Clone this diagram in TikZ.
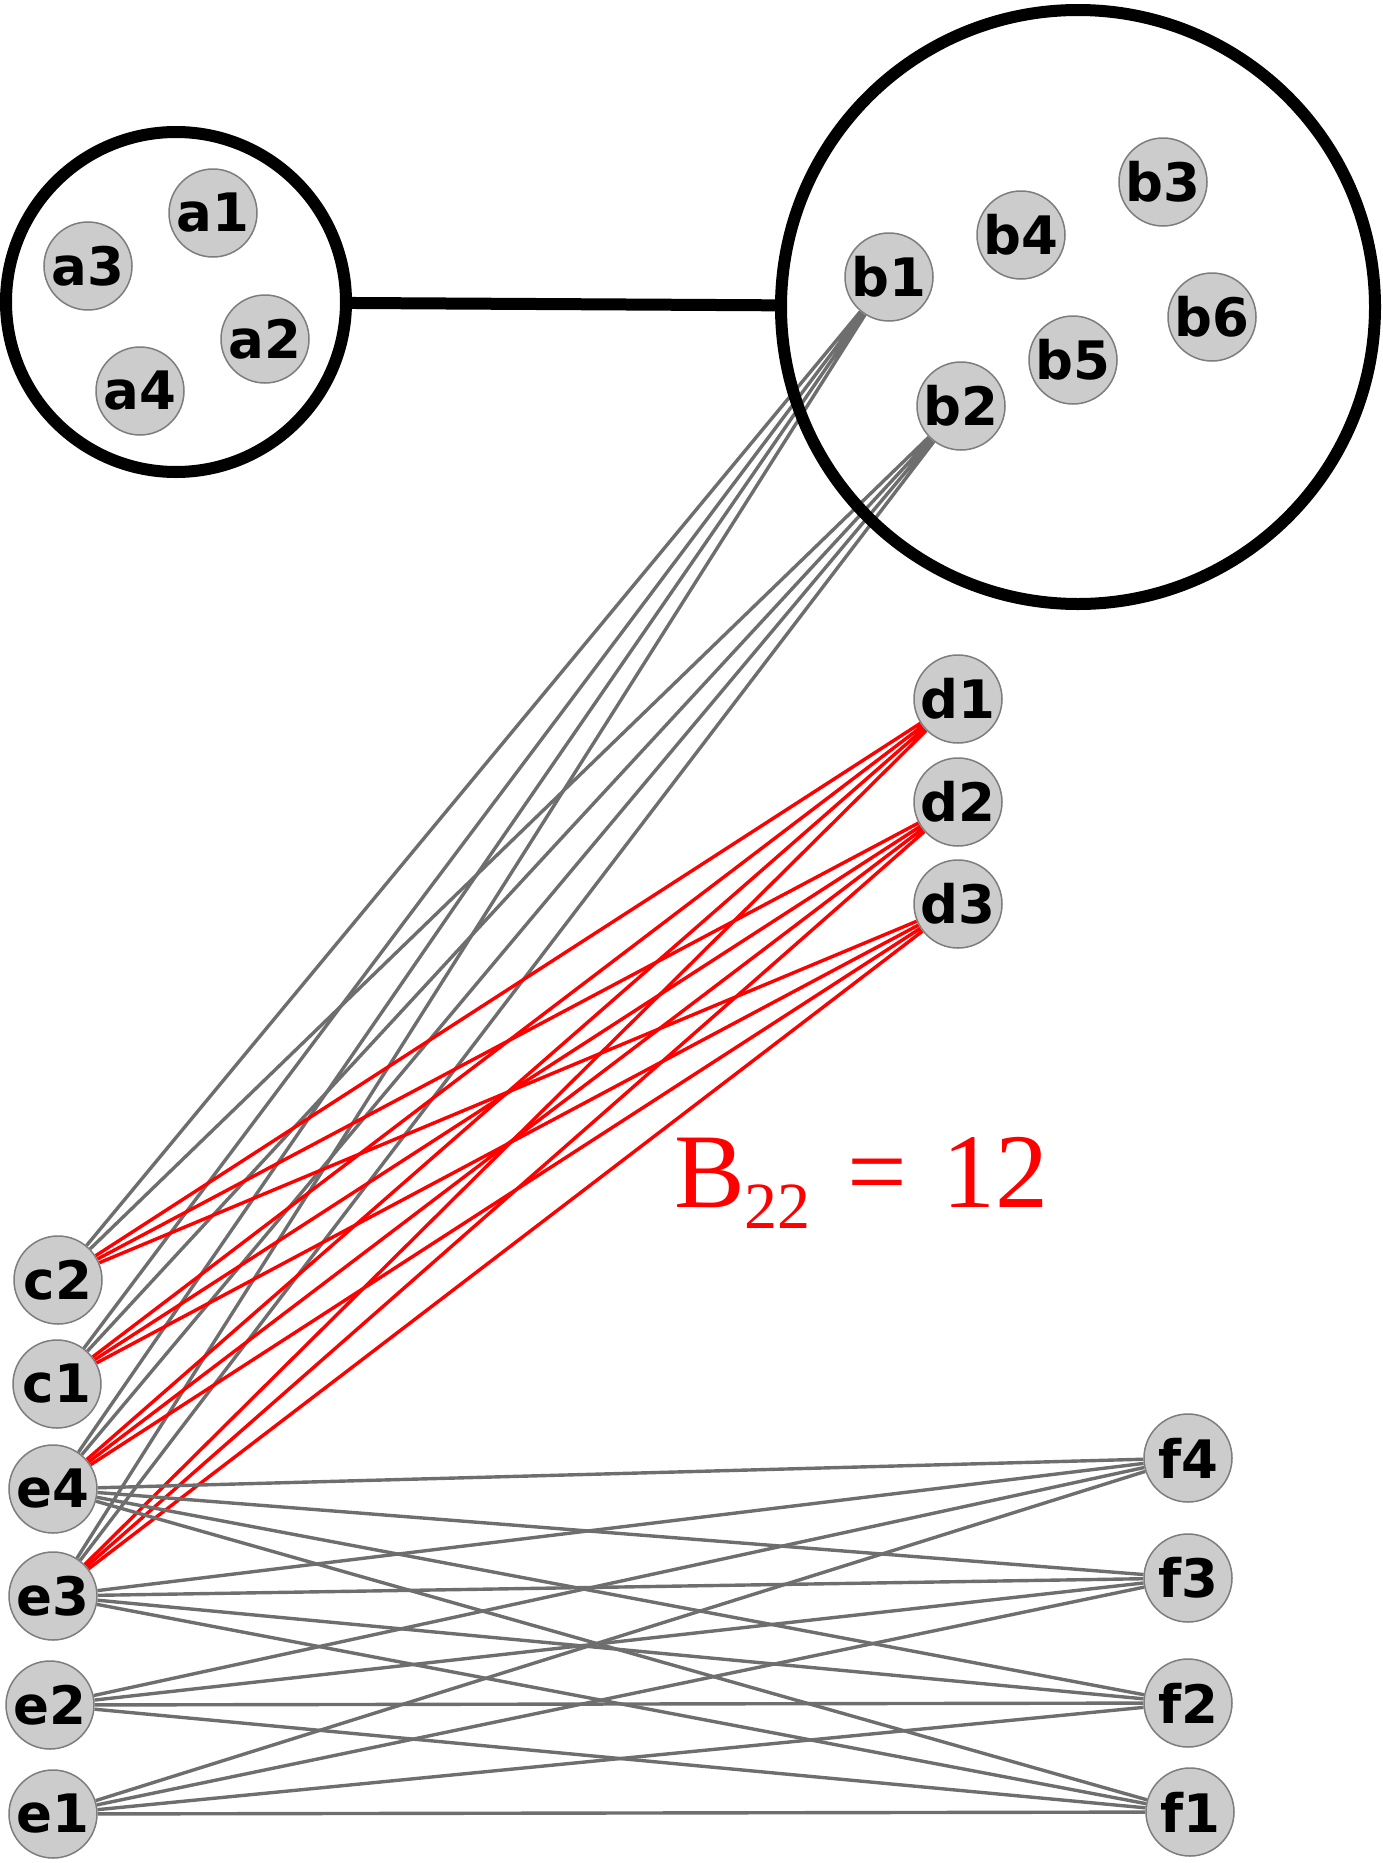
\documentclass[tikz,border=0pt]{standalone}
\usepackage{fontspec}
\usepackage{xcolor}
\usepackage{tikz}
\usetikzlibrary{backgrounds}
\newfontfamily\labelfont{DejaVu Sans}
\newfontfamily\countfont{Liberation Serif}
\definecolor{nodegray}{RGB}{204,204,204}
\definecolor{rimgray}{RGB}{125,125,125}
\definecolor{edgegray}{RGB}{110,110,110}

\begin{document}
\begin{tikzpicture}[x=1pt, y=-1pt,
  vertex/.style={circle, draw=rimgray, line width=1.5pt, fill=nodegray,
                 minimum size=88pt, inner sep=0pt,
                 font=\labelfont\bfseries\fontsize{53}{53}\selectfont},
  group/.style={circle, draw=black, line width=12pt, inner sep=0pt},
  link/.style={line width=3.4pt, draw=edgegray},
  hit/.style={line width=3.4pt, draw=red},
  count/.style={anchor=base west, inner sep=0pt, text=red,
                font=\countfont\fontsize{106}{106}\selectfont}
]
\useasboundingbox (0,0) rectangle (1383,1863);

% the two groups
\node[group, minimum size=340pt] (A) at (176,302) {};
\node[group, minimum size=594pt] (B) at (1078,307) {};
\draw[line width=12pt] (A) -- (B);

\node[vertex] (a1) at (213,213) {a1};
\node[vertex] (a2) at (265,339) {a2};
\node[vertex] (a3) at (88,266)  {a3};
\node[vertex] (a4) at (140,391) {a4};

\node[vertex] (b1) at (889,277)  {b1};
\node[vertex] (b2) at (961,406)  {b2};
\node[vertex] (b3) at (1163,182) {b3};
\node[vertex] (b4) at (1021,235) {b4};
\node[vertex] (b5) at (1073,360) {b5};
\node[vertex] (b6) at (1212,317) {b6};

\node[vertex] (d1) at (958,699) {d1};
\node[vertex] (d2) at (958,802) {d2};
\node[vertex] (d3) at (958,904) {d3};

\node[vertex] (c2) at (58,1280) {c2};
\node[vertex] (c1) at (57,1384) {c1};
\node[vertex] (e4) at (53,1489) {e4};
\node[vertex] (e3) at (53,1596) {e3};
\node[vertex] (e2) at (50,1705) {e2};
\node[vertex] (e1) at (53,1814) {e1};

\node[vertex] (f4) at (1188,1458) {f4};
\node[vertex] (f3) at (1188,1578) {f3};
\node[vertex] (f2) at (1188,1703) {f2};
\node[vertex] (f1) at (1190,1812) {f1};

\node[count] (bsum) at (674,1207)
  {B\raisebox{-21pt}{\fontsize{66}{66}\selectfont 22}\hspace{10pt} =\hspace{9pt} 12};

\begin{pgfonlayer}{background}
% b1, b2 to the left column
\draw[link] (b1) -- (c2) (b1) -- (c1) (b1) -- (e4) (b1) -- (e3);
\draw[link] (b2) -- (c2) (b2) -- (c1) (b2) -- (e4) (b2) -- (e3);

% d1, d2, d3 to the left column
\draw[hit] (d1) -- (c2) (d1) -- (c1) (d1) -- (e4) (d1) -- (e3);
\draw[hit] (d2) -- (c2) (d2) -- (c1) (d2) -- (e4) (d2) -- (e3);
\draw[hit] (d3) -- (c2) (d3) -- (c1) (d3) -- (e4) (d3) -- (e3);

% e to f
\draw[link] (e4) -- (f4) (e4) -- (f3) (e4) -- (f2) (e4) -- (f1);
\draw[link] (e3) -- (f4) (e3) -- (f3) (e3) -- (f2) (e3) -- (f1);
\draw[link] (e2) -- (f4) (e2) -- (f3) (e2) -- (f2) (e2) -- (f1);
\draw[link] (e1) -- (f4) (e1) -- (f3) (e1) -- (f2) (e1) -- (f1);
\end{pgfonlayer}
\end{tikzpicture}
\end{document}
